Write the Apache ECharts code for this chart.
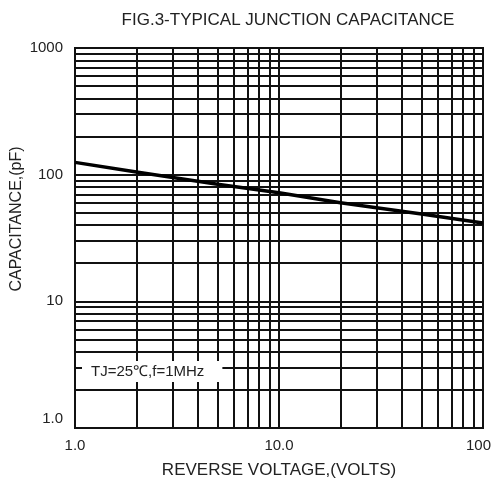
<!DOCTYPE html>
<html>
<head>
<meta charset="utf-8">
<script src="https://cdn.jsdelivr.net/npm/echarts@6/dist/echarts.min.js"></script>
<style>
html,body{margin:0;padding:0;background:#fff;}
#chart{width:492px;height:486px;}
</style>
</head>
<body>
<div id="chart"></div>
<script>
// Data
var voltage = [1, 2, 5, 10, 20, 50, 100];
var capacitance = [125, 105, 84, 72, 60, 49, 41.5];

// Tick labels
var xTickValues = [1, 10, 100];
var xTickLabels = ['1.0', '10.0', '100'];
var yTickValues = [1, 10, 100, 1000];
var yTickLabels = ['1.0', '10', '100', '1000'];

// Minor grid values (2..9 of each decade)
var xMinor = [2,3,4,5,6,7,8,9,20,30,40,50,60,70,80,90];
var yMinor = [2,3,4,5,6,7,8,9,20,30,40,50,60,70,80,90,200,300,400,500,600,700,800,900];

var titleText = 'FIG.3-TYPICAL JUNCTION CAPACITANCE';
var xName = 'REVERSE VOLTAGE,(VOLTS)';
var yName = 'CAPACITANCE,(pF)';
var noteText = 'TJ=25\u2103,f=1MHz';

var seriesData = voltage.map(function (v, i) { return [v, capacitance[i]]; });

function lbl(values, labels) {
  return function (v) {
    for (var i = 0; i < values.length; i++) {
      if (Math.abs(v - values[i]) < 1e-6 * values[i]) return labels[i];
    }
    return '';
  };
}

var FONT = 'Liberation Sans, Arial, sans-serif';
var gridLine = { color: '#111', width: 2, type: 'solid' };
var markData = [];
xMinor.forEach(function (v) { markData.push({ xAxis: v }); });
yMinor.forEach(function (v) { markData.push({ yAxis: v }); });

var chart = echarts.init(document.getElementById('chart'), null, { renderer: 'canvas' });
chart.setOption({
  animation: false,
  backgroundColor: '#fff',
  textStyle: { fontFamily: FONT },
  title: {
    text: titleText,
    left: 283, top: 7, textAlign: 'center',
    textStyle: { fontSize: 17, fontWeight: 'normal', color: '#222', fontFamily: FONT }
  },
  grid: {
    left: 75, right: 9, top: 48, bottom: 58,
    containLabel: false, outerBoundsMode: 'none',
    show: true, borderColor: '#111', borderWidth: 2, backgroundColor: '#fff'
  },
  xAxis: {
    type: 'log', logBase: 10, min: 1, max: 100,
    name: xName, nameLocation: 'middle', nameGap: 34, nameMoveOverlap: false,
    nameTextStyle: { fontSize: 17, color: '#222', fontFamily: FONT },
    axisLine: { show: true, lineStyle: { color: '#111', width: 2 } },
    axisTick: { show: false },
    axisLabel: {
      fontSize: 15, color: '#222', margin: 10,
      formatter: function (v) {
        var s = lbl(xTickValues, xTickLabels)(v);
        return s === xTickLabels[xTickLabels.length - 1] ? '{last|' + s + '}' : s;
      },
      rich: { last: { fontSize: 15, color: '#222', padding: [0, 9, 0, 0] } },
      showMinLabel: true, showMaxLabel: true
    },
    splitLine: { show: true, lineStyle: gridLine }
  },
  yAxis: {
    type: 'log', logBase: 10, min: 1, max: 1000,
    name: yName, nameLocation: 'middle', nameGap: 50, nameRotate: 90, nameMoveOverlap: false,
    nameTextStyle: { fontSize: 16, color: '#222', fontFamily: FONT, padding: [0, 0, 0, 38] },
    axisLine: { show: true, lineStyle: { color: '#111', width: 2 } },
    axisTick: { show: false },
    axisLabel: {
      fontSize: 15, color: '#222', margin: 12,
      formatter: function (v) {
        var s = lbl(yTickValues, yTickLabels)(v);
        return s === yTickLabels[0] ? '{first|' + s + '}' : s;
      },
      rich: { first: { fontSize: 15, color: '#222', padding: [0, 0, 18, 0] } }
    },
    splitLine: { show: true, lineStyle: gridLine }
  },
  series: [
    {
      type: 'line',
      data: [],
      silent: true,
      markLine: {
        silent: true, symbol: 'none', animation: false,
        label: { show: false },
        lineStyle: gridLine,
        emphasis: { disabled: true },
        data: markData
      },
      z: 1
    },
    {
      type: 'line',
      data: seriesData,
      showSymbol: false,
      smooth: false,
      lineStyle: { color: '#000', width: 3.5 },
      z: 5
    }
  ],
  graphic: [
    {
      type: 'text',
      left: 82, top: 361, z: 10,
      style: {
        text: noteText,
        fontSize: 15, fill: '#222',
        fontFamily: FONT,
        backgroundColor: '#fff',
        padding: [3, 18, 3, 9]
      }
    }
  ]
});
</script>
</body>
</html>
